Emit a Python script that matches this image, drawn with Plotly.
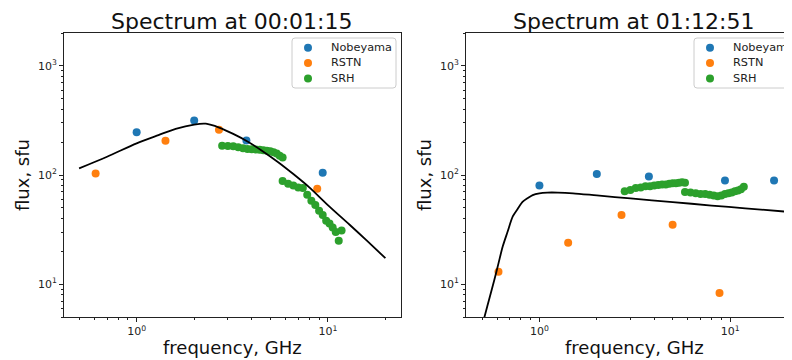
import math
import plotly.graph_objects as go

# ---------------- data ----------------
# Left panel: 00:01:15
nob_f_left = [1.0, 2.0, 3.75, 9.4]
nob_flux_left = [247, 315, 207, 105]
rstn_f_left = [0.61, 1.415, 2.695, 8.8]
rstn_flux_left = [103, 206, 260, 75]
srh_f_left = [2.8, 3.0, 3.2, 3.4, 3.6, 3.8, 4.0, 4.2, 4.4, 4.6, 4.8, 5.0, 5.2, 5.4, 5.6, 5.8,
              5.8, 6.2, 6.6, 7.0, 7.4, 7.8, 8.2, 8.6, 9.0, 9.4, 9.8, 10.2, 10.6, 11.0, 11.4, 11.8]
srh_flux_left = [185, 184, 183, 180, 176, 173, 172, 171, 170, 169, 167, 165, 162, 157, 150, 145,
                 88, 83, 80, 77, 76, 66, 58, 53, 47, 43, 38, 36, 33, 30, 25, 31]
model_f_left = [0.5, 0.7, 1.0, 1.3, 1.6, 2.0, 2.3, 2.7, 3.2, 3.8, 4.5, 5.5, 6.6, 8.0, 10.0, 13.0, 16.0, 20.0]
model_flux_left = [115, 147, 195, 232, 265, 290, 295, 272, 238, 203, 168, 131, 102, 77, 53, 35, 25, 17.3]

# Right panel: 01:12:51
nob_f_right = [1.0, 2.0, 3.75, 9.4, 17.0]
nob_flux_right = [80, 102, 97, 89, 89]
rstn_f_right = [0.61, 1.415, 2.695, 4.995, 8.8]
rstn_flux_right = [13, 24, 43, 35, 8.3]
srh_f_right = [2.8, 3.0, 3.2, 3.4, 3.6, 3.8, 4.0, 4.2, 4.4, 4.6, 4.8, 5.0, 5.2, 5.4, 5.6, 5.8,
               5.8, 6.2, 6.6, 7.0, 7.4, 7.8, 8.2, 8.6, 9.0, 9.4, 9.8, 10.2, 10.6, 11.0, 11.4, 11.8]
srh_flux_right = [71, 73, 76, 77, 79, 79, 80, 81, 82, 82, 83, 84, 84, 85, 86, 85,
                  70, 69, 68, 67, 67, 66, 65, 64, 65, 67, 68, 69, 71, 72, 74, 78]
model_f_right = [0.5, 0.515, 0.55, 0.58, 0.61, 0.642, 0.68, 0.725, 0.77, 0.818, 0.87, 0.922,
                 1.0, 1.1, 1.25, 1.5, 2.0, 3.0, 5.0, 8.0, 12.0, 20.0]
model_flux_right = [4.1, 5.0, 7.7, 10.9, 15.5, 22.1, 30, 41.7, 49, 56.9, 61.5, 65.5,
                    68, 69, 69, 68, 65, 61, 56.5, 52.5, 49.5, 46]

titles = ["Spectrum at 00:01:15", "Spectrum at 01:12:51"]
x_label = "frequency, GHz"
y_label = "flux, sfu"
series_names = ["Nobeyama", "RSTN", "SRH"]
x_tick_vals = [1, 10]
x_tick_text = ["10<sup>0</sup>", "10<sup>1</sup>"]
y_tick_vals = [10, 100, 1000]
y_tick_text = ["10<sup>1</sup>", "10<sup>2</sup>", "10<sup>3</sup>"]

# ---------------- styling ----------------
C_BLUE, C_ORANGE, C_GREEN = "#1f77b4", "#ff7f0e", "#2ca02c"
COLORS = [C_BLUE, C_ORANGE, C_GREEN]
FONT = "DejaVu Sans"
# The page body has an 8px margin, so the figure is drawn 8px right/down.
# Layout is expressed in reference-picture pixels; the plot area spans
# x 64..802 and y 33..317 in those pixels.
OFF = 8
AX_L, AX_R, AX_T, AX_B = 64, 802, 33, 317
W, H = 800, 352
ML, MT = AX_L - OFF, AX_T - OFF
MR = W - (AX_R - OFF)
MB = H - (AX_B - OFF)
PW, PH = AX_R - AX_L, AX_B - AX_T


def px_x(p):
    return (p - AX_L) / PW


def px_y(p):
    return (AX_B - p) / PH


fig = go.Figure()

panels = [
    ("x", "y", nob_f_left, nob_flux_left, rstn_f_left, rstn_flux_left,
     srh_f_left, srh_flux_left, model_f_left, model_flux_left),
    ("x2", "y2", nob_f_right, nob_flux_right, rstn_f_right, rstn_flux_right,
     srh_f_right, srh_flux_right, model_f_right, model_flux_right),
]

for (xa, ya, nf, nv, rf, rv, sf, sv, mf, mv) in panels:
    for name, fx, fy, col in [(series_names[0], nf, nv, C_BLUE),
                              (series_names[1], rf, rv, C_ORANGE),
                              (series_names[2], sf, sv, C_GREEN)]:
        fig.add_trace(go.Scatter(x=fx, y=fy, mode="markers", name=name, showlegend=False,
                                 marker=dict(color=col, size=8, line=dict(width=0)),
                                 xaxis=xa, yaxis=ya))
    fig.add_trace(go.Scatter(x=mf, y=mv, mode="lines", showlegend=False,
                             line=dict(color="black", width=1.8, shape="spline", smoothing=0.8),
                             xaxis=xa, yaxis=ya))

minor_x = [0.5, 0.6, 0.7, 0.8, 0.9, 2, 3, 4, 5, 6, 7, 8, 9, 20]
minor_y = [5, 6, 7, 8, 9, 20, 30, 40, 50, 60, 70, 80, 90, 200, 300, 400, 500, 600, 700, 800, 900, 2000]

axis_common = dict(type="log", showgrid=False, zeroline=False, showline=True,
                   linecolor="#222", linewidth=1, ticks="outside", ticklen=4, tickwidth=1,
                   tickcolor="#222", tickfont=dict(family=FONT, size=11, color="#222"))
minor_common = dict(tickmode="array", ticks="outside", ticklen=2, tickwidth=0.8,
                    tickcolor="#222", showgrid=False)


def xaxis(domain, rng, anchor):
    d = dict(axis_common)
    d.update(domain=domain, range=rng, anchor=anchor, mirror=True,
             tickmode="array", tickvals=x_tick_vals, ticktext=x_tick_text,
             minor=dict(minor_common, tickvals=minor_x))
    return d


def yaxis(anchor):
    d = dict(axis_common)
    d.update(domain=[0, 1], range=[math.log10(5), math.log10(2000)], anchor=anchor, mirror=True,
             tickmode="array", tickvals=y_tick_vals, ticktext=y_tick_text,
             minor=dict(minor_common, tickvals=minor_y))
    return d


fig.update_layout(
    width=W, height=H,
    margin=dict(l=ML, r=MR, t=MT, b=MB, autoexpand=False, pad=0),
    paper_bgcolor="white", plot_bgcolor="white",
    xaxis=xaxis([0, px_x(400.5)], [-0.38, 1.38], "y"),
    xaxis2=xaxis([px_x(466), 1], [-0.385, 1.377], "y2"),
    yaxis=yaxis("x"),
    yaxis2=yaxis("x2"),
    showlegend=False,
    font=dict(family=FONT),
)

shapes = []
ann = []


def rounded_rect(x0, y0, x1, y1, r=3):
    X = lambda p: px_x(p)
    Y = lambda p: px_y(p)
    return (f"M {X(x0 + r)} {Y(y0)} L {X(x1 - r)} {Y(y0)} Q {X(x1)} {Y(y0)} {X(x1)} {Y(y0 + r)} "
            f"L {X(x1)} {Y(y1 - r)} Q {X(x1)} {Y(y1)} {X(x1 - r)} {Y(y1)} "
            f"L {X(x0 + r)} {Y(y1)} Q {X(x0)} {Y(y1)} {X(x0)} {Y(y1 - r)} "
            f"L {X(x0)} {Y(y0 + r)} Q {X(x0)} {Y(y0)} {X(x0 + r)} {Y(y0)} Z")


rows_y = [47.7, 63.0, 78.5]
for box_l in [292, 694]:
    shapes.append(dict(type="path", xref="paper", yref="paper",
                       path=rounded_rect(box_l, 38, box_l + 104, 88),
                       line=dict(color="#cccccc", width=1), fillcolor="rgba(255,255,255,0.85)",
                       layer="above"))
    for name, col, ry in zip(series_names, COLORS, rows_y):
        shapes.append(dict(type="circle", xref="paper", yref="paper",
                           xsizemode="pixel", ysizemode="pixel",
                           xanchor=px_x(box_l + 16), yanchor=px_y(ry),
                           x0=-4, x1=4, y0=-4, y1=4,
                           fillcolor=col, line=dict(width=0), layer="above"))
        ann.append(dict(text=name, x=px_x(box_l + 37), y=px_y(ry), xref="paper", yref="paper",
                        xanchor="left", yanchor="middle", showarrow=False,
                        font=dict(family=FONT, size=11.3, color="#222")))

for cx, t in [((64 + 400) / 2, titles[0]), ((466 + 802) / 2, titles[1])]:
    ann.append(dict(text=t, x=px_x(cx), y=px_y(21), xref="paper", yref="paper",
                    xanchor="center", yanchor="middle", showarrow=False,
                    font=dict(family=FONT, size=22, color="#111")))
    ann.append(dict(text=x_label, x=px_x(cx), y=px_y(347), xref="paper", yref="paper",
                    xanchor="center", yanchor="middle", showarrow=False,
                    font=dict(family=FONT, size=18, color="#111")))
for lx in [22, 424]:
    ann.append(dict(text=y_label, x=px_x(lx), y=0.5, xref="paper", yref="paper",
                    xanchor="center", yanchor="middle", showarrow=False, textangle=-90,
                    font=dict(family=FONT, size=18, color="#111")))
fig.update_layout(annotations=ann, shapes=shapes)

fig.write_html("out.html")
